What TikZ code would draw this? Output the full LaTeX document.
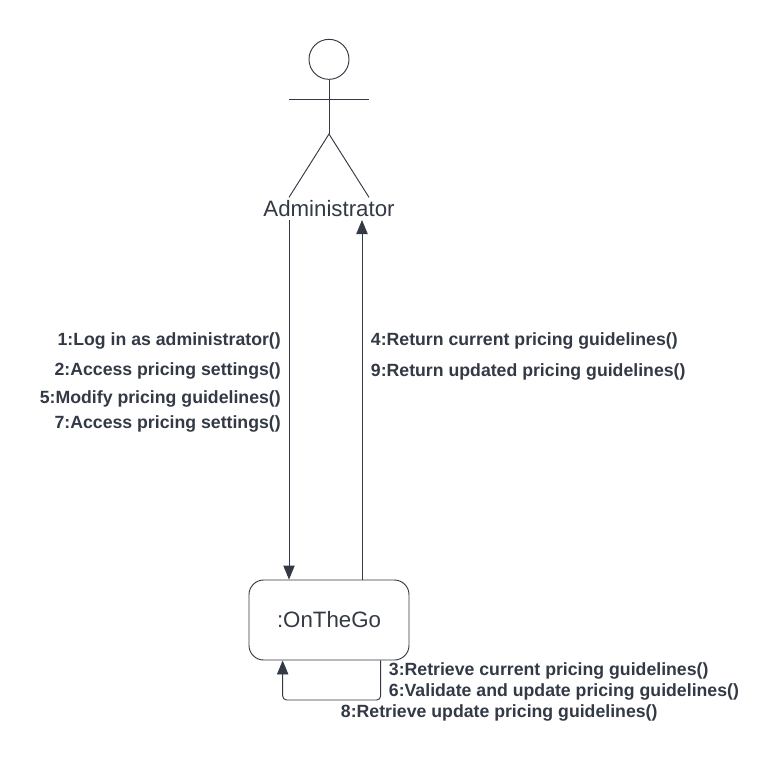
\documentclass[tikz,border=0pt]{standalone}
\usepackage{fontspec}
\setmainfont{Liberation Sans}
\usetikzlibrary{arrows.meta,positioning,calc}
\definecolor{ink}{HTML}{333A45}
\begin{document}
\begin{tikzpicture}[x=1pt,y=-1pt,
  every node/.style={inner sep=0pt},
  sysbox/.style={draw=ink, rounded corners=11pt, minimum width=120pt, minimum height=60pt,
              font=\fontsize{16.7}{20}\selectfont, text=ink, line width=0.7pt},
  msg/.style={font=\fontsize{13.27}{16}\selectfont\bfseries, text=ink},
  ar/.style={-{Triangle[length=10.5pt,width=8.5pt]}, draw=ink, line width=0.7pt},
  limb/.style={draw=ink, line width=0.7pt}
]
  \useasboundingbox (0,0) rectangle (584.25,573.75);
  \fill[white] (0,0) rectangle (584.25,573.75);
  \node[circle, draw=ink, line width=0.7pt, minimum size=30pt] (head) at (246.75,44.5) {};
  \coordinate (hip) at (246.75,100.5);
  \coordinate (armL) at (216.75,74.5);
  \coordinate (armR) at (276.75,74.5);
  \coordinate (footL) at (216.75,148);
  \coordinate (footR) at (276.75,148);
  \draw[limb] (head.south) -- (hip);
  \draw[limb] (armL) -- (armR);
  \draw[limb] (footL) -- (hip) -- (footR);
  \node[font=\fontsize{16.7}{20}\selectfont, text=ink] (admin) at (246.75,156.5) {Administrator};
  \node[sysbox] (ontg) at (246.75,465) {:OnTheGo};
  \coordinate (dn) at (216.75,165);
  \coordinate (up) at (271.5,165);
  \draw[ar] (dn) -- (dn |- ontg.north);
  \draw[ar] (up |- ontg.north) -- (up);
  \coordinate (lpS) at (285.5,525);
  \coordinate (lpE) at (212,525);
  \draw[ar, rounded corners=3pt] (lpS |- ontg.south) -- (lpS) -- (lpE) -- (lpE |- ontg.south);
  \node[msg, anchor=east] (m1) at (210.75,256) {1:Log in as administrator()};
  \node[msg, anchor=east] (m2) at (210.75,278.5) {2:Access pricing settings()};
  \node[msg, anchor=east] (m5) at (210.75,299.5) {5:Modify pricing guidelines()};
  \node[msg, anchor=east] (m7) at (210.75,318) {7:Access pricing settings()};
  \node[msg, anchor=west] (m4) at (278,255.5) {4:Return current pricing guidelines()};
  \node[msg, anchor=west] (m9) at (278,279) {9:Return updated pricing guidelines()};
  \node[msg, anchor=west] (m3) at (291.5,503) {3:Retrieve current pricing guidelines()};
  \node[msg, anchor=west] (m6) at (291.5,519) {6:Validate and update pricing guidelines()};
  \node[msg, anchor=west] (m8) at (255.5,535) {8:Retrieve update pricing guidelines()};
\end{tikzpicture}
\end{document}
